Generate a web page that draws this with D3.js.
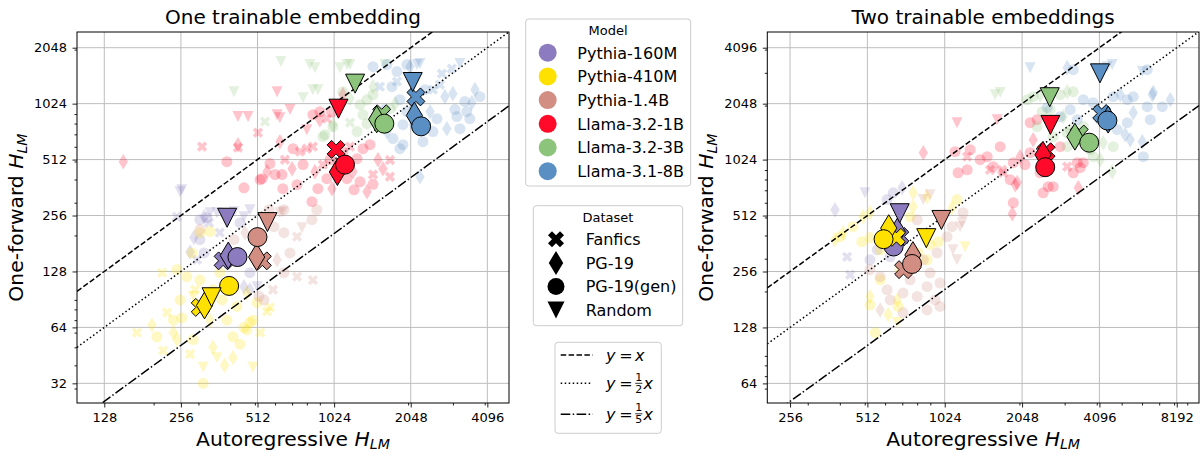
<!DOCTYPE html>
<html>
<head>
<meta charset="utf-8">
<script src="https://cdn.jsdelivr.net/npm/d3@7"></script>
<style>
body { margin: 0; background: #fff; }
svg { display: block; font-family: "DejaVu Sans", sans-serif; }
</style>
</head>
<body>
<svg width="1200" height="452"></svg>
<script>
// categories
const models = ["Pythia-160M", "Pythia-410M", "Pythia-1.4B", "Llama-3.2-1B", "Llama-3.2-3B", "Llama-3.1-8B"];
const datasets = ["Fanfics", "PG-19", "PG-19(gen)", "Random"];

// tick labels
const oneXTicks = [128, 256, 512, 1024, 2048, 4096];
const oneYTicks = [32, 64, 128, 256, 512, 1024, 2048];
const twoXTicks = [256, 512, 1024, 2048, 4096, 8192];
const twoYTicks = [64, 128, 256, 512, 1024, 2048, 4096];
const refSlopes = [1, 1 / 2, 1 / 5];

// [model, dataset, autoregressive H, one-forward H]
const oneMeans = [
	[0, 0, 375, 146], [0, 1, 393, 156], [0, 2, 427, 153], [0, 3, 389, 249],
	[1, 0, 305, 82], [1, 1, 317, 84], [1, 2, 396, 107], [1, 3, 338, 93],
	[2, 0, 535, 146], [2, 1, 508, 153], [2, 2, 512, 196], [2, 3, 560, 236],
	[3, 0, 1042, 581], [3, 1, 1055, 439], [3, 2, 1130, 481], [3, 3, 1065, 962],
	[4, 0, 1575, 903], [4, 1, 1505, 843], [4, 2, 1613, 799], [4, 3, 1238, 1312],
	[5, 0, 2147, 1113], [5, 1, 2117, 884], [5, 2, 2250, 773], [5, 3, 2085, 1339]
];

const twoMeans = [
	[0, 0, 685, 395], [0, 1, 670, 420], [0, 2, 648, 349], [0, 3, 684, 527],
	[1, 0, 664, 391], [1, 1, 620, 438], [1, 2, 592, 382], [1, 3, 868, 387],
	[2, 0, 708, 262], [2, 1, 770, 314], [2, 2, 764, 281], [2, 3, 994, 485],
	[3, 0, 2542, 1129], [3, 1, 2470, 1087], [3, 2, 2520, 932], [3, 3, 2640, 1574],
	[4, 0, 3420, 1406], [4, 1, 3288, 1360], [4, 2, 3738, 1263], [4, 3, 2625, 2218],
	[5, 0, 4180, 1812], [5, 1, 4430, 1680], [5, 2, 4400, 1661], [5, 3, 4117, 2982]
];

// single runs (faint markers)
const oneCloud = [
	[0, 1, 316, 252], [0, 3, 333, 265], [0, 3, 355, 265], [0, 3, 414, 268], [0, 3, 453, 252], [0, 3, 478, 275],
	[0, 0, 330, 234], [0, 2, 437, 234], [0, 1, 288, 195], [0, 2, 304, 190], [0, 1, 278, 163], [0, 2, 316, 161],
	[0, 0, 296, 148], [0, 2, 478, 126], [0, 1, 453, 106], [0, 1, 478, 102], [0, 3, 510, 106], [0, 0, 247, 252],
	[0, 3, 254, 344], [0, 3, 258, 352], [0, 2, 304, 243], [0, 2, 324, 249], [0, 0, 364, 207],
	[1, 0, 216, 126], [1, 2, 247, 131], [1, 2, 304, 207], [1, 2, 333, 210], [1, 2, 283, 161], [1, 2, 270, 120],
	[1, 2, 304, 115], [1, 2, 342, 102], [1, 0, 172, 60], [1, 1, 197, 66], [1, 0, 226, 77], [1, 2, 239, 70],
	[1, 2, 258, 72], [1, 0, 218, 48], [1, 1, 247, 55], [1, 0, 278, 46], [1, 2, 286, 55], [1, 3, 313, 39],
	[1, 2, 313, 32], [1, 1, 342, 50], [1, 3, 355, 44], [1, 1, 410, 44], [1, 2, 410, 57], [1, 2, 465, 62],
	[1, 3, 491, 39], [1, 0, 524, 60], [1, 0, 558, 78], [1, 2, 510, 87], [1, 1, 465, 98], [1, 2, 425, 83],
	[1, 2, 388, 70], [1, 2, 371, 90], [1, 2, 410, 111], [1, 2, 364, 126], [1, 2, 491, 70], [1, 1, 239, 60],
	[1, 2, 206, 57], [1, 3, 286, 94], [1, 0, 573, 82], [1, 2, 478, 68], [1, 2, 453, 64],
	[1, 1, 333, 70], [1, 2, 254, 90], [1, 0, 291, 102], [1, 2, 437, 52], [1, 1, 380, 40],
	[2, 2, 568, 275], [2, 3, 627, 265], [2, 2, 650, 275], [2, 2, 594, 223], [2, 2, 650, 207], [2, 0, 732, 197],
	[2, 2, 687, 161], [2, 1, 611, 148], [2, 0, 732, 120], [2, 2, 650, 126], [2, 2, 519, 94], [2, 2, 543, 90],
	[2, 1, 457, 207], [2, 2, 414, 190], [2, 2, 304, 215], [2, 0, 845, 115], [2, 3, 766, 220], [2, 2, 876, 275],
	[2, 2, 838, 243], [2, 0, 589, 102], [2, 3, 644, 268],
	[3, 3, 429, 872], [3, 3, 470, 872], [3, 3, 611, 893], [3, 3, 687, 951], [3, 3, 611, 1188], [3, 3, 627, 861],
	[3, 0, 310, 601], [3, 0, 429, 594], [3, 0, 514, 715], [3, 1, 429, 616], [3, 1, 152, 499],
	[3, 2, 388, 499], [3, 2, 453, 361], [3, 2, 524, 399], [3, 2, 838, 304], [3, 2, 639, 425],
	[3, 1, 558, 441], [3, 2, 600, 425], [3, 2, 644, 357], [3, 1, 700, 457], [3, 0, 752, 565], [3, 0, 800, 586],
	[3, 0, 845, 601], [3, 2, 706, 586], [3, 2, 773, 481], [3, 1, 861, 441], [3, 2, 884, 357], [3, 2, 959, 404],
	[3, 0, 925, 481], [3, 1, 1004, 357], [3, 2, 1150, 404], [3, 1, 1215, 441], [3, 2, 1294, 389], [3, 1, 1379, 344],
	[3, 0, 1456, 425], [3, 1, 1593, 457], [3, 0, 1697, 414], [3, 2, 1260, 518], [3, 2, 1330, 586], [3, 2, 1417, 616],
	[3, 0, 1182, 601], [3, 2, 1109, 565], [3, 1, 627, 639], [3, 2, 573, 487], [3, 2, 533, 404], [3, 3, 800, 742],
	[3, 2, 845, 893], [3, 0, 959, 850], [3, 2, 900, 927], [3, 1, 1109, 1145], [3, 2, 1456, 377], [3, 0, 1697, 509],
	[3, 1, 900, 840], [3, 2, 1000, 920], [3, 2, 987, 511], [3, 2, 732, 375], [3, 0, 656, 511], [3, 2, 1226, 352],
	[3, 1, 1523, 511],
	[4, 3, 633, 1724], [4, 3, 861, 1600], [4, 3, 1150, 1661], [4, 3, 1182, 1661], [4, 3, 1079, 1600], [4, 3, 414, 1188],
	[4, 3, 773, 1103], [4, 3, 845, 1218], [4, 3, 884, 1218], [4, 3, 822, 1661], [4, 3, 1622, 1661],
	[4, 2, 1109, 1188], [4, 1, 1182, 1090], [4, 2, 1294, 1011], [4, 2, 1330, 893], [4, 2, 1379, 799], [4, 2, 1260, 724],
	[4, 2, 942, 697], [4, 1, 1013, 789], [4, 2, 1697, 963], [4, 1, 1776, 1024], [4, 2, 1456, 1145], [4, 0, 548, 819],
	[4, 2, 925, 680], [4, 2, 1013, 770], [4, 0, 1182, 809], [4, 2, 1379, 1076], [4, 1, 1456, 1264],
	[5, 2, 1456, 1620], [5, 2, 1651, 1661], [5, 0, 1808, 1346], [5, 2, 1728, 1264], [5, 2, 1979, 1661], [5, 3, 2167, 1661],
	[5, 3, 2227, 1682], [5, 0, 2715, 1485], [5, 0, 2972, 1581], [5, 3, 3195, 1682], [5, 0, 2504, 1218], [5, 1, 2790, 1117],
	[5, 1, 2999, 1159], [5, 2, 3341, 1050], [5, 2, 3829, 1117], [5, 2, 3402, 927], [5, 2, 3195, 751], [5, 1, 2841, 751],
	[5, 2, 2597, 850], [5, 1, 2440, 927], [5, 2, 2504, 724], [5, 2, 2288, 639], [5, 2, 1909, 616], [5, 2, 1858, 586],
	[5, 2, 1744, 664], [5, 1, 1651, 724], [5, 1, 2227, 414], [5, 2, 1909, 789], [5, 2, 1979, 927], [5, 2, 3109, 872],
	[5, 2, 3496, 850], [5, 1, 3560, 1037], [5, 1, 2034, 1620], [5, 2, 1808, 1523], [5, 0, 1550, 1264],
	[5, 2, 1858, 1076], [5, 1, 2090, 974], [5, 2, 2330, 1218], [5, 0, 2670, 1296], [5, 2, 3056, 951], [5, 1, 3663, 1218],
	[5, 2, 1622, 951], [5, 2, 1523, 841], [5, 2, 2122, 789]
];

const twoCloud = [
	[0, 3, 501, 679], [0, 1, 383, 550], [0, 0, 427, 307], [0, 0, 439, 246], [0, 2, 645, 679], [0, 1, 699, 722],
	[0, 2, 559, 335], [0, 2, 524, 296], [0, 2, 628, 307], [0, 2, 590, 370], [0, 1, 705, 380], [0, 2, 611, 624],
	[1, 1, 383, 380], [1, 1, 412, 414], [1, 2, 450, 446], [1, 1, 492, 504], [1, 1, 524, 530], [1, 2, 487, 370],
	[1, 2, 524, 390], [1, 2, 751, 504], [1, 1, 772, 571], [1, 1, 874, 646], [1, 1, 1093, 563], [1, 3, 1229, 348],
	[1, 2, 807, 323], [1, 2, 874, 296], [1, 1, 669, 180], [1, 2, 674, 166], [1, 1, 524, 188], [1, 2, 524, 169],
	[1, 1, 617, 150], [1, 2, 574, 335], [1, 2, 898, 357], [1, 2, 965, 370], [1, 2, 401, 394], [1, 2, 549, 120],
	[1, 3, 669, 136], [1, 1, 772, 679], [1, 2, 1143, 624], [1, 2, 574, 231], [1, 2, 686, 261],
	[2, 3, 845, 624], [2, 3, 898, 663], [2, 2, 800, 486], [2, 2, 1093, 446], [2, 3, 1196, 468], [2, 2, 1046, 394],
	[2, 3, 1103, 335], [2, 2, 956, 323], [2, 2, 845, 296], [2, 2, 898, 252], [2, 2, 982, 222], [2, 2, 874, 212],
	[2, 2, 800, 188], [2, 2, 705, 196], [2, 2, 611, 204], [2, 2, 574, 240], [2, 2, 524, 262], [2, 2, 705, 154],
	[2, 2, 874, 159], [2, 2, 982, 166], [2, 3, 1143, 296], [2, 3, 1175, 446], [2, 2, 1207, 530],
	[2, 2, 628, 180], [2, 2, 751, 231], [2, 2, 939, 180], [2, 1, 574, 159],
	[3, 1, 845, 1116], [3, 3, 1143, 1618], [3, 3, 1638, 1680], [3, 2, 1123, 1130], [3, 2, 1154, 870], [3, 2, 1252, 902],
	[3, 2, 1406, 1023], [3, 2, 1498, 1062], [3, 2, 1683, 1202], [3, 0, 1713, 902], [3, 2, 1893, 986], [3, 1, 2013, 1062],
	[3, 2, 2202, 1116], [3, 2, 2202, 1618], [3, 2, 2344, 1680], [3, 2, 2408, 870], [3, 2, 2474, 679], [3, 2, 2706, 732],
	[3, 0, 3069, 938], [3, 2, 3358, 986], [3, 2, 3544, 986], [3, 2, 2882, 1202], [3, 1, 1927, 750], [3, 2, 1893, 600],
	[3, 1, 1876, 524], [3, 1, 3389, 722], [3, 0, 1537, 902], [3, 1, 2263, 1310], [3, 2, 1580, 938], [3, 0, 1729, 870],
	[3, 1, 1962, 770], [3, 2, 2588, 732], [3, 2, 3240, 870], [3, 2, 3451, 926], [3, 0, 1252, 1062],
	[3, 2, 1840, 798], [3, 2, 2104, 962], [3, 2, 1287, 1157],
	[4, 3, 1609, 2290], [4, 3, 1683, 2348], [4, 2, 2144, 2152], [4, 2, 2263, 2234], [4, 1, 2408, 2290], [4, 2, 2882, 2290],
	[4, 1, 3069, 2376], [4, 2, 3240, 2376], [4, 2, 2634, 1902], [4, 2, 2452, 1854], [4, 1, 2961, 1744], [4, 2, 3153, 1484],
	[4, 2, 2706, 1360], [4, 2, 3069, 1202], [4, 2, 3874, 1310], [4, 1, 4236, 1262], [4, 2, 4636, 1202], [4, 1, 4594, 882],
	[4, 2, 3874, 1062], [4, 2, 3544, 1540], [4, 2, 2344, 1540], [4, 2, 3069, 1430], [4, 2, 3772, 1157], [4, 1, 4124, 1023],
	[5, 3, 2202, 3200], [5, 1, 3069, 3200], [5, 2, 3240, 3121], [5, 3, 4392, 3240], [5, 3, 4594, 3322], [5, 3, 6016, 3046],
	[5, 2, 6290, 3121], [5, 2, 3544, 2152], [5, 2, 3874, 2074], [5, 1, 4937, 2290], [5, 2, 5548, 2234], [5, 1, 6640, 2348],
	[5, 2, 7195, 1973], [5, 2, 6290, 1973], [5, 1, 5548, 1832], [5, 2, 5259, 1618], [5, 2, 4805, 1484], [5, 1, 5400, 1310],
	[5, 1, 6016, 1278], [5, 2, 6071, 1062], [5, 2, 2882, 1744], [5, 2, 3153, 1902], [5, 2, 2565, 1949], [5, 2, 3358, 1680],
	[5, 1, 6580, 2290], [5, 2, 4636, 2234], [5, 2, 5259, 2152], [5, 2, 4124, 1680], [5, 1, 5158, 1395], [5, 2, 6463, 1680],
	[5, 1, 7732, 2152]
];

const colors = ["#8c7cbf", "#ffe100", "#d28e82", "#ff0a28", "#8dc47b", "#5a8fc4"];
const dashes = ["5.5,2.4", "1.5,2.5", "9.6,2.4,1.5,2.4"];

const svg = d3.select('svg');
const plotTop = 32, plotBottom = 403;

// marker shapes, in the style of matplotlib X, d, o, v
const plusV = [[-1, -1/3], [-1, 1/3], [-1/3, 1/3], [-1/3, 1], [1/3, 1], [1/3, 1/3], [1, 1/3], [1, -1/3], [1/3, -1/3], [1/3, -1], [-1/3, -1], [-1/3, -1/3]];
function markerPath(k, ms) {
	const r = ms / 2;
	if (k === 2) {
		const p = d3.path();
		p.arc(0, 0, r, 0, 2 * Math.PI);
		p.closePath();
		return p.toString();
	}
	let pts;
	if (k === 0) pts = plusV.map(([a, b]) => [(a - b) * r / Math.SQRT2, (a + b) * r / Math.SQRT2]);
	else if (k === 1) pts = [[0, -1.414 * r], [0.849 * r, 0], [0, 1.414 * r], [-0.849 * r, 0]];
	else pts = [[0, r], [-r, -r], [r, -r]];
	return 'M' + pts.map(q => q[0].toFixed(2) + ',' + q[1].toFixed(2)).join('L') + 'Z';
}

function minorTicks(dom) {
	const out = [];
	for (let e = 1; e <= 4; e++) {
		for (let k = 2; k <= 9; k++) {
			const v = k * Math.pow(10, e);
			if (v >= dom[0] && v <= dom[1]) out.push(v);
		}
	}
	return out;
}

function hlmLabel(sel, prefix) {
	sel.append('tspan').text(prefix);
	sel.append('tspan').attr('font-style', 'italic').text('H');
	sel.append('tspan').attr('font-style', 'italic').attr('font-size', '0.7em').attr('dy', '0.25em').text('LM');
}

const panels = [
	{x0: 77, x1: 509, xDomain: [100, 4983], yDomain: [25.08, 2488], xTicks: oneXTicks, yTicks: oneYTicks,
		title: "One trainable embedding", cloud: oneCloud, means: oneMeans},
	{x0: 767.3, x1: 1199, xDomain: [208.8, 10000], yDomain: [50.2, 4976], xTicks: twoXTicks, yTicks: twoYTicks,
		title: "Two trainable embeddings", cloud: twoCloud, means: twoMeans}
];

panels.forEach(function(p, pi) {
	const x = d3.scaleLog().base(2).domain(p.xDomain).range([p.x0, p.x1]);
	const y = d3.scaleLog().base(2).domain(p.yDomain).range([plotBottom, plotTop]);
	const g = svg.append('g');

	g.append('clipPath').attr('id', 'clip' + pi)
		.append('rect')
		.attr('x', p.x0).attr('y', plotTop)
		.attr('width', p.x1 - p.x0).attr('height', plotBottom - plotTop);

	// griglia
	g.selectAll('.vgrid').data(p.xTicks).enter().append('line')
		.attr('x1', d => x(d)).attr('x2', d => x(d))
		.attr('y1', plotTop).attr('y2', plotBottom)
		.style('stroke', '#bdbdbd').style('stroke-width', 1);
	g.selectAll('.hgrid').data(p.yTicks).enter().append('line')
		.attr('y1', d => y(d)).attr('y2', d => y(d))
		.attr('x1', p.x0).attr('x2', p.x1)
		.style('stroke', '#bdbdbd').style('stroke-width', 1);

	const plot = g.append('g').attr('clip-path', `url(#clip${pi})`);

	// faint single runs
	plot.selectAll('.cloud').data(p.cloud).enter().append('path')
		.attr('d', d => markerPath(d[1], 11))
		.attr('transform', d => `translate(${x(d[2])},${y(d[3])})`)
		.style('fill', d => colors[d[0]])
		.style('fill-opacity', 0.24);

	// reference lines y = c x
	refSlopes.forEach(function(c, i) {
		plot.append('line')
			.attr('x1', x(p.xDomain[0])).attr('y1', y(c * p.xDomain[0]))
			.attr('x2', x(p.xDomain[1])).attr('y2', y(c * p.xDomain[1]))
			.style('stroke', '#000')
			.style('stroke-width', 1.5)
			.style('stroke-dasharray', dashes[i]);
	});

	// means
	plot.selectAll('.mean').data(p.means).enter().append('path')
		.attr('d', d => markerPath(d[1], 19))
		.attr('transform', d => `translate(${x(d[2])},${y(d[3])})`)
		.style('fill', d => colors[d[0]])
		.style('stroke', '#000')
		.style('stroke-width', 1);

	// assi
	g.append('g').attr('transform', `translate(0,${plotBottom})`)
		.call(d3.axisBottom(x).tickValues(p.xTicks).tickFormat(d3.format('d')).tickSize(4.5).tickPadding(5));
	g.append('g').attr('transform', `translate(0,${plotBottom})`)
		.call(d3.axisBottom(x).tickValues(minorTicks(p.xDomain)).tickFormat('').tickSize(2.5));
	g.append('g').attr('transform', `translate(${p.x0},0)`)
		.call(d3.axisLeft(y).tickValues(p.yTicks).tickFormat(d3.format('d')).tickSize(4.5).tickPadding(5.5));
	g.append('g').attr('transform', `translate(${p.x0},0)`)
		.call(d3.axisLeft(y).tickValues(minorTicks(p.yDomain)).tickFormat('').tickSize(2.5));
	g.selectAll('.domain').remove();
	g.selectAll('.tick text').attr('font-size', 13).attr('font-family', 'DejaVu Sans').attr('fill', '#000');
	g.selectAll('.tick line').style('stroke', '#222');

	g.append('rect')
		.attr('x', p.x0).attr('y', plotTop)
		.attr('width', p.x1 - p.x0).attr('height', plotBottom - plotTop)
		.style('fill', 'none').style('stroke', '#000').style('stroke-width', 1);

	g.append('text')
		.attr('x', (p.x0 + p.x1) / 2).attr('y', 24)
		.attr('text-anchor', 'middle').attr('font-size', 20)
		.text(p.title);

	g.append('text')
		.attr('x', (p.x0 + p.x1) / 2).attr('y', 445.5)
		.attr('text-anchor', 'middle').attr('font-size', 20.3)
		.call(hlmLabel, 'Autoregressive ');

	g.append('text')
		.attr('transform', `translate(${p.x0 - 54},${(plotTop + plotBottom) / 2}) rotate(-90)`)
		.attr('text-anchor', 'middle').attr('font-size', 20.3)
		.call(hlmLabel, 'One-forward ');
});

// Legenda dei modelli
function legendBox(x0, y0, w, h) {
	svg.append('rect')
		.attr('x', x0).attr('y', y0).attr('width', w).attr('height', h)
		.attr('rx', 3)
		.style('fill', '#fff').style('stroke', '#cccccc').style('stroke-width', 1);
}

legendBox(525.7, 19, 165, 167);
svg.append('text').attr('x', 608).attr('y', 35.3).attr('text-anchor', 'middle').attr('font-size', 13).text('Model');
models.forEach(function(m, i) {
	const cy = 52.7 + i * 23.7;
	svg.append('circle').attr('cx', 547.7).attr('cy', cy).attr('r', 9).style('fill', colors[i]);
	svg.append('text').attr('x', 577.3).attr('y', cy + 5.8).attr('font-size', 16).text(m);
});

legendBox(533.3, 205.7, 149.4, 120);
svg.append('text').attr('x', 608).attr('y', 222).attr('text-anchor', 'middle').attr('font-size', 13).text('Dataset');
datasets.forEach(function(dname, i) {
	const cy = 239.3 + i * 23.6;
	svg.append('path').attr('d', markerPath(i, 17)).attr('transform', `translate(556,${cy})`).style('fill', '#000');
	svg.append('text').attr('x', 585.7).attr('y', cy + 5.8).attr('font-size', 16).text(dname);
});

// Legenda delle rette
legendBox(555, 342.3, 106.3, 91);
const lineRows = [{ly: 355, base: 361, den: null}, {ly: 383.3, base: 389.3, den: '2'}, {ly: 414.3, base: 419.8, den: '5'}];
lineRows.forEach(function(r, i) {
	svg.append('line')
		.attr('x1', 560.7).attr('x2', 592.7).attr('y1', r.ly).attr('y2', r.ly)
		.style('stroke', '#000').style('stroke-width', 1.5).style('stroke-dasharray', dashes[i]);
	svg.append('text').attr('x', 606).attr('y', r.base).attr('font-size', 16).attr('font-style', 'italic').text('y');
	svg.append('text').attr('x', 619.3).attr('y', r.base).attr('font-size', 16).text('=');
	let xs = 635;
	if (r.den) {
		const fx = 638.8;
		svg.append('text').attr('x', fx).attr('y', r.base - 8.5).attr('text-anchor', 'middle').attr('font-size', 11).text('1');
		svg.append('line').attr('x1', fx - 3.6).attr('x2', fx + 3.6).attr('y1', r.base - 6).attr('y2', r.base - 6)
			.style('stroke', '#000').style('stroke-width', 0.8);
		svg.append('text').attr('x', fx).attr('y', r.base + 3.3).attr('text-anchor', 'middle').attr('font-size', 11).text(r.den);
		xs = 643.5;
	}
	svg.append('text').attr('x', xs).attr('y', r.base).attr('font-size', 16).attr('font-style', 'italic').text('x');
});
</script>
</body>
</html>
